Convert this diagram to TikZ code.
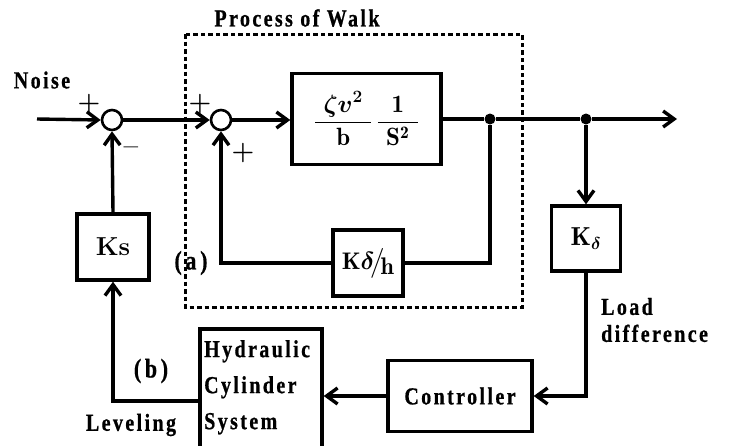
\documentclass[tikz,border=0pt]{standalone}
\usepackage{fontspec}
\usepackage{graphicx}
\usepackage{amsmath}
\usepackage{bm}
\usetikzlibrary{arrows.meta,calc}
\newfontfamily\labfont{Liberation Serif}[LetterSpace=12, BoldFeatures={FakeBold=0.8}]
\newcommand\tallt[1]{\scalebox{1}[1.22]{#1}}
\tikzset{
  blk/.style={draw, line width=3.4pt, inner sep=0pt},
  sumj/.style={circle, draw, line width=2.6pt, minimum size=20pt, inner sep=0pt},
  dotj/.style={circle, fill, minimum size=11pt, inner sep=0pt},
  wire/.style={line width=3.4pt},
  sig/.style={line width=3.4pt, -{Straight Barb[length=11pt,width=16pt]}},
  dashbox/.style={line width=3pt, dash pattern=on 4.5pt off 3pt},
  lab/.style={font=\labfont\bfseries\fontsize{20}{22}\selectfont, inner sep=0pt},
  sgn/.style={font=\bfseries\fontsize{26}{26}\selectfont, inner sep=0pt},
}
\begin{document}
\begin{tikzpicture}[x=1pt,y=-1pt]
\useasboundingbox (0,0) rectangle (744,445);
% dashed process box
\draw[dashbox] (185,34) rectangle (522,307);
\node[lab] (title) at (297,18) {\tallt{Process of Walk}};
% main path
\coordinate (in) at (37,119);
\node[sumj] (s1) at (112,120) {};
\node[sumj] (s2) at (221,120) {};
\node[blk, minimum width=149pt, minimum height=91pt] (G) at (366.5,119)
  {\fontsize{25}{26}\selectfont$\displaystyle
   \frac{\makebox[56pt]{$\bm{\zeta v^{2}}$}}{\mathbf{b}}\,
   \frac{\makebox[40pt]{$\mathbf{1}$}}{\mathbf{S}^{\mathbf 2}}$};
\node[dotj] (d1) at (490,119) {};
\node[dotj] (d2) at (586,119) {};
\coordinate (out) at (677,119);
% feedback blocks
\node[blk, minimum width=70pt, minimum height=66pt] (Kh) at (368,263)
  {\fontsize{24}{26}\selectfont$\mathbf{K}\bm{\delta}\!\big/\!\lower5pt\hbox{$\mathbf{h}$}$};
\node[blk, minimum width=72pt, minimum height=66pt] (Ks) at (113,247)
  {\fontsize{26}{28}\selectfont\bfseries Ks};
\node[blk, minimum width=69pt, minimum height=65pt] (Kd) at (586,238.5)
  {\fontsize{26}{28}\selectfont$\mathbf{K}_{\bm{\delta}}$};
\node[blk, minimum width=144pt, minimum height=71pt, lab] (C) at (460,396) {\tallt{Controller}};
\node[blk, minimum width=122pt, minimum height=144pt] (Hyd) at (261,401) {};
\node[lab, anchor=north west, align=left, font=\labfont\bfseries\fontsize{20}{36}\selectfont] (hydt) at (204,340)
  {\tallt{Hydraulic}\\\tallt{Cylinder}\\\tallt{System}};
% connectors
\draw[sig] (in) -- (s1.west);
\draw[sig] (s1.east) -- (s2.west);
\draw[sig] (s2.east) -- (s2.east -| G.west);
\draw[wire] (G.east) -- (d1) -- (d2);
\draw[sig] (d2) -- (out);
\draw[wire] (d1) |- (Kh.east);
\draw[sig] (Kh.west) -| (s2.south);
\draw[sig] (d2) -- (Kd.north);
\draw[sig] (Kd.south) |- (C.east);
\draw[sig] (C.west) -- (C.west -| Hyd.east);
\draw[sig] (Hyd.west) -| (Ks.south);
\draw[sig] (Ks.north) -- (s1.south);
% labels
\node[lab] (noise) at (42,80) {\tallt{Noise}};
\node[sgn] (p1) at (89,104) {+};
\node[sgn] (m1) at (131,151) {--};
\node[sgn] (p2) at (200,104) {+};
\node[sgn] (p3) at (243,153) {+};
\node[lab, font=\labfont\bfseries\fontsize{22}{24}\selectfont] (la) at (191,263) {\tallt{(\,a\,)}};
\node[lab, font=\labfont\bfseries\fontsize{22}{24}\selectfont] (lb) at (151,371) {\tallt{(\,b\,)}};
\node[lab] (lev) at (131,425) {\tallt{Leveling}};
\node[lab, anchor=west, align=left, font=\labfont\bfseries\fontsize{20}{27}\selectfont] (ld) at (601,320) {\tallt{Load}\\\tallt{difference}};
\end{tikzpicture}
\end{document}
